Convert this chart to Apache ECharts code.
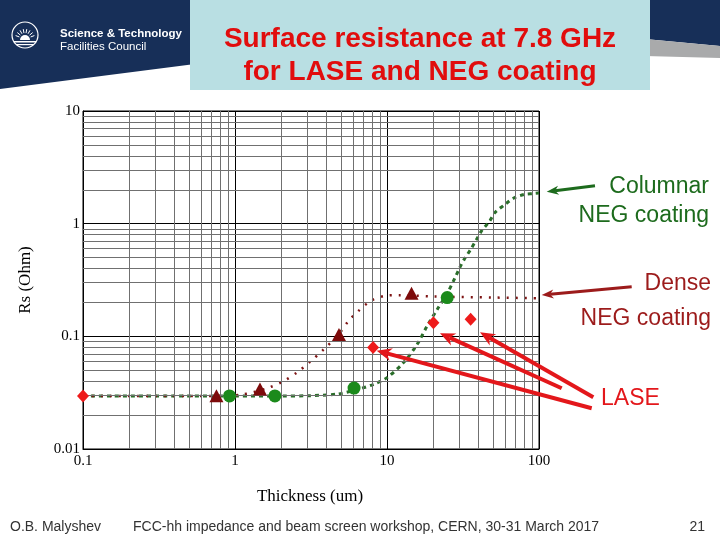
<!DOCTYPE html>
<html>
<head>
<meta charset="utf-8">
<script src="https://cdn.jsdelivr.net/npm/echarts@6/dist/echarts.min.js"></script>
<style>html,body{margin:0;padding:0;background:#fff}#c{width:720px;height:540px}</style>
</head>
<body>
<div id="c"></div>
<script>
// ---- data ----
const xTickLabels = ['0.1', '1', '10', '100'];
const yTickLabels = ['0.01', '0.1', '1', '10'];

// Columnar NEG coating (green circles + dashed fit)
const columnarX = [0.92, 1.83, 6.07, 24.9];
const columnarY = [0.0296, 0.0296, 0.0347, 0.221];
const columnarFitX = [0.1, 0.5, 1, 2, 3, 4.7, 6.5, 8.2, 10, 12.9, 15.8, 18.4, 21.5, 24.9, 28, 30.1, 32.2, 35.5, 38.6, 42.1, 47.3, 51.2, 59.7, 67.8, 80, 91.7, 100];
const columnarFitY = [0.0295, 0.0295, 0.0295, 0.0295, 0.0297, 0.0307, 0.034, 0.0376, 0.043, 0.0588, 0.085, 0.124, 0.175, 0.24, 0.33, 0.407, 0.482, 0.59, 0.716, 0.872, 1.05, 1.25, 1.48, 1.68, 1.82, 1.85, 1.87];

// Dense NEG coating (dark red triangles + dotted fit)
const denseX = [0.755, 1.46, 4.83, 14.5];
const denseY = [0.0297, 0.034, 0.104, 0.241];
const denseFitX = [0.1, 0.5, 0.8, 1.06, 1.33, 1.67, 2.1, 2.57, 3.1, 3.85, 4.8, 5.6, 6.4, 7.8, 9.6, 12, 20, 50, 100];
const denseFitY = [0.0295, 0.0295, 0.0296, 0.0302, 0.032, 0.035, 0.0402, 0.048, 0.059, 0.077, 0.104, 0.138, 0.165, 0.206, 0.228, 0.232, 0.226, 0.221, 0.218];

// LASE (red diamonds)
const laseX = [0.1, 8.1, 20.2, 35.5];
const laseY = [0.0295, 0.0796, 0.132, 0.142];

// minor log grid values
const minorMult = [2, 3, 4, 5, 6, 7, 8, 9];
const xDecades = [0.1, 1, 10];
const yDecades = [0.01, 0.1, 1];

function pairs(xs, ys) { return xs.map((x, i) => [x, ys[i]]); }
const minorX = [], minorY = [];
xDecades.forEach(d => minorMult.forEach(m => minorX.push({ xAxis: +(d * m).toPrecision(3) })));
yDecades.forEach(d => minorMult.forEach(m => minorY.push({ yAxis: +(d * m).toPrecision(3) })));

function labelFor(list) {
  return function (v) {
    const i = Math.round(Math.log10(v) - Math.log10(parseFloat(list[0])));
    return list[i] !== undefined ? list[i] : '';
  };
}

// arrow helper (annotation graphics)
function arrow(x1, y1, x2, y2, color, w, hl, hw) {
  const dx = x2 - x1, dy = y2 - y1, L = Math.hypot(dx, dy);
  const ux = dx / L, uy = dy / L, px = -uy, py = ux;
  const bx = x2 - ux * hl, by = y2 - uy * hl;
  const nx = x2 - ux * hl * 0.7, ny = y2 - uy * hl * 0.7;
  return [
    { type: 'line', shape: { x1: x1, y1: y1, x2: nx, y2: ny }, style: { stroke: color, lineWidth: w }, z: 50 },
    { type: 'polygon', shape: { points: [[x2, y2], [bx + px * hw / 2, by + py * hw / 2], [nx, ny], [bx - px * hw / 2, by - py * hw / 2]] }, style: { fill: color }, z: 50 }
  ];
}

const navy = '#172f58';
const serif = '"Liberation Serif", "DejaVu Serif", serif';
const sans = '"Liberation Sans", Arial, sans-serif';

// logo rays
const rays = [];
[-160, -140, -120, -100, -80, -60, -40, -20].forEach(a => {
  const r = a * Math.PI / 180;
  rays.push({ type: 'line', shape: { x1: 25 + Math.cos(r) * 6, y1: 39 + Math.sin(r) * 6, x2: 25 + Math.cos(r) * 10, y2: 39 + Math.sin(r) * 10 }, style: { stroke: '#fff', lineWidth: 1 }, z: 12 });
});

const graphics = [
  // header banners
  { type: 'polygon', shape: { points: [[0, 0], [195, 0], [195, 64], [0, 89]] }, style: { fill: navy }, z: 10 },
  { type: 'polygon', shape: { points: [[645, 0], [720, 0], [720, 46], [645, 39]] }, style: { fill: navy }, z: 10 },
  { type: 'polygon', shape: { points: [[645, 39], [720, 46], [720, 58], [645, 56]] }, style: { fill: '#a9aaab' }, z: 10 },
  { type: 'rect', shape: { x: 190, y: 0, width: 460, height: 90 }, style: { fill: '#b9dfe3' }, z: 11 },
  { type: 'text', x: 420, y: 39, style: { text: 'Surface resistance at 7.8 GHz', fill: '#e10d0d', font: 'bold 28px ' + sans, textAlign: 'center', textVerticalAlign: 'middle' }, z: 12 },
  { type: 'text', x: 420, y: 72, style: { text: 'for LASE and NEG coating', fill: '#e10d0d', font: 'bold 28px ' + sans, textAlign: 'center', textVerticalAlign: 'middle' }, z: 12 },
  // logo
  { type: 'circle', shape: { cx: 25, cy: 35, r: 13 }, style: { fill: 'none', stroke: '#fff', lineWidth: 1.2 }, z: 12 },
  { type: 'sector', shape: { cx: 25, cy: 40, r: 5, startAngle: Math.PI, endAngle: 2 * Math.PI }, style: { fill: '#fff' }, z: 12 },
  { type: 'rect', shape: { x: 14, y: 41, width: 22, height: 1.5 }, style: { fill: '#fff' }, z: 12 },
  { type: 'rect', shape: { x: 16, y: 44, width: 18, height: 1.2 }, style: { fill: '#fff' }, z: 12 },
  { type: 'text', x: 60, y: 34, style: { text: 'Science & Technology', fill: '#fff', font: 'bold 11.5px ' + sans, textVerticalAlign: 'middle' }, z: 12 },
  { type: 'text', x: 60, y: 47, style: { text: 'Facilities Council', fill: '#fff', font: '11.5px ' + sans, textVerticalAlign: 'middle' }, z: 12 },
  // axis titles
  { type: 'text', x: 26, y: 280, rotation: Math.PI / 2, style: { text: 'Rs (Ohm)', fill: '#000', font: '17px ' + serif, textAlign: 'center', textVerticalAlign: 'middle' }, z: 12 },
  { type: 'text', x: 310, y: 497, style: { text: 'Thickness (um)', fill: '#000', font: '17px ' + serif, textAlign: 'center', textVerticalAlign: 'middle' }, z: 12 },
  // annotations
  { type: 'text', x: 709, y: 187, style: { text: 'Columnar', fill: '#1d6b1d', font: '23px ' + sans, textAlign: 'right', textVerticalAlign: 'middle' }, z: 12 },
  { type: 'text', x: 709, y: 216, style: { text: 'NEG coating', fill: '#1d6b1d', font: '23px ' + sans, textAlign: 'right', textVerticalAlign: 'middle' }, z: 12 },
  { type: 'text', x: 711, y: 284, style: { text: 'Dense', fill: '#9c1b1b', font: '23px ' + sans, textAlign: 'right', textVerticalAlign: 'middle' }, z: 12 },
  { type: 'text', x: 711, y: 319, style: { text: 'NEG coating', fill: '#9c1b1b', font: '23px ' + sans, textAlign: 'right', textVerticalAlign: 'middle' }, z: 12 },
  { type: 'text', x: 601, y: 399, style: { text: 'LASE', fill: '#e3171b', font: '23px ' + sans, textAlign: 'left', textVerticalAlign: 'middle' }, z: 12 },
  // footer
  { type: 'text', x: 10, y: 527, style: { text: 'O.B. Malyshev', fill: '#333', font: '14px ' + sans, textVerticalAlign: 'middle' }, z: 12 },
  { type: 'text', x: 133, y: 527, style: { text: 'FCC-hh impedance and beam screen workshop, CERN, 30-31 March 2017', fill: '#333', font: '14px ' + sans, textVerticalAlign: 'middle' }, z: 12 },
  { type: 'text', x: 705, y: 527, style: { text: '21', fill: '#333', font: '14px ' + sans, textAlign: 'right', textVerticalAlign: 'middle' }, z: 12 }
].concat(
  rays,
  arrow(595, 185.7, 546.7, 191.7, '#1d6b1d', 3, 12, 9),
  arrow(631.7, 286.7, 541.7, 295, '#9c1b1b', 3, 12, 9),
  arrow(591.7, 408.3, 376.7, 350.7, '#e3171b', 4, 15, 13),
  arrow(561.7, 388.3, 440, 333.3, '#e3171b', 4, 15, 13),
  arrow(593.3, 397.3, 480, 332.3, '#e3171b', 4, 15, 13)
);

const chart = echarts.init(document.getElementById('c'), null, { renderer: 'canvas' });
chart.setOption({
  animation: false,
  backgroundColor: '#fff',
  grid: { left: 83, right: 181, top: 111, bottom: 91, show: true, borderColor: '#000', borderWidth: 1, backgroundColor: 'transparent' },
  xAxis: {
    type: 'log', logBase: 10, min: 0.1, max: 100,
    axisLine: { lineStyle: { color: '#000', width: 1 } },
    axisTick: { show: false },
    axisLabel: { color: '#000', fontFamily: serif, fontSize: 15, margin: 5, formatter: labelFor(xTickLabels) },
    splitLine: { show: true, lineStyle: { color: '#000', width: 1 } }
  },
  yAxis: {
    type: 'log', logBase: 10, min: 0.01, max: 10,
    axisLine: { lineStyle: { color: '#000', width: 1 } },
    axisTick: { show: false },
    axisLabel: { color: '#000', fontFamily: serif, fontSize: 15, margin: 3, formatter: labelFor(yTickLabels) },
    splitLine: { show: true, lineStyle: { color: '#000', width: 1 } }
  },
  graphic: graphics,
  series: [
    {
      type: 'line', data: [], z: 1, silent: true,
      markLine: {
        silent: true, symbol: 'none', label: { show: false }, animation: false,
        lineStyle: { color: '#707070', width: 1, type: 'solid', opacity: 1 },
        emphasis: { disabled: true },
        data: minorX.concat(minorY)
      }
    },
    {
      name: 'Columnar fit', type: 'line', data: pairs(columnarFitX, columnarFitY), showSymbol: false, smooth: 0.3, z: 3,
      lineStyle: { color: '#2b6e2b', width: 3, type: [4, 4] }
    },
    {
      name: 'Dense fit', type: 'line', data: pairs(denseFitX, denseFitY), showSymbol: false, smooth: 0.3, z: 3,
      lineStyle: { color: '#7e1414', width: 2.5, type: [2, 7] }
    },
    {
      name: 'Columnar', type: 'scatter', data: pairs(columnarX, columnarY), symbol: 'circle', symbolSize: 13, z: 5,
      itemStyle: { color: '#1b8a1b', opacity: 1 }
    },
    {
      name: 'Dense', type: 'scatter', data: pairs(denseX, denseY), symbol: 'triangle', symbolSize: [14, 13], z: 5,
      itemStyle: { color: '#7d0b0b', opacity: 1 }
    },
    {
      name: 'LASE', type: 'scatter', data: pairs(laseX, laseY), symbol: 'diamond', symbolSize: [12, 13], z: 6, clip: false,
      itemStyle: { color: '#ee1b1b', opacity: 1 }
    }
  ]
});
</script>
</body>
</html>
